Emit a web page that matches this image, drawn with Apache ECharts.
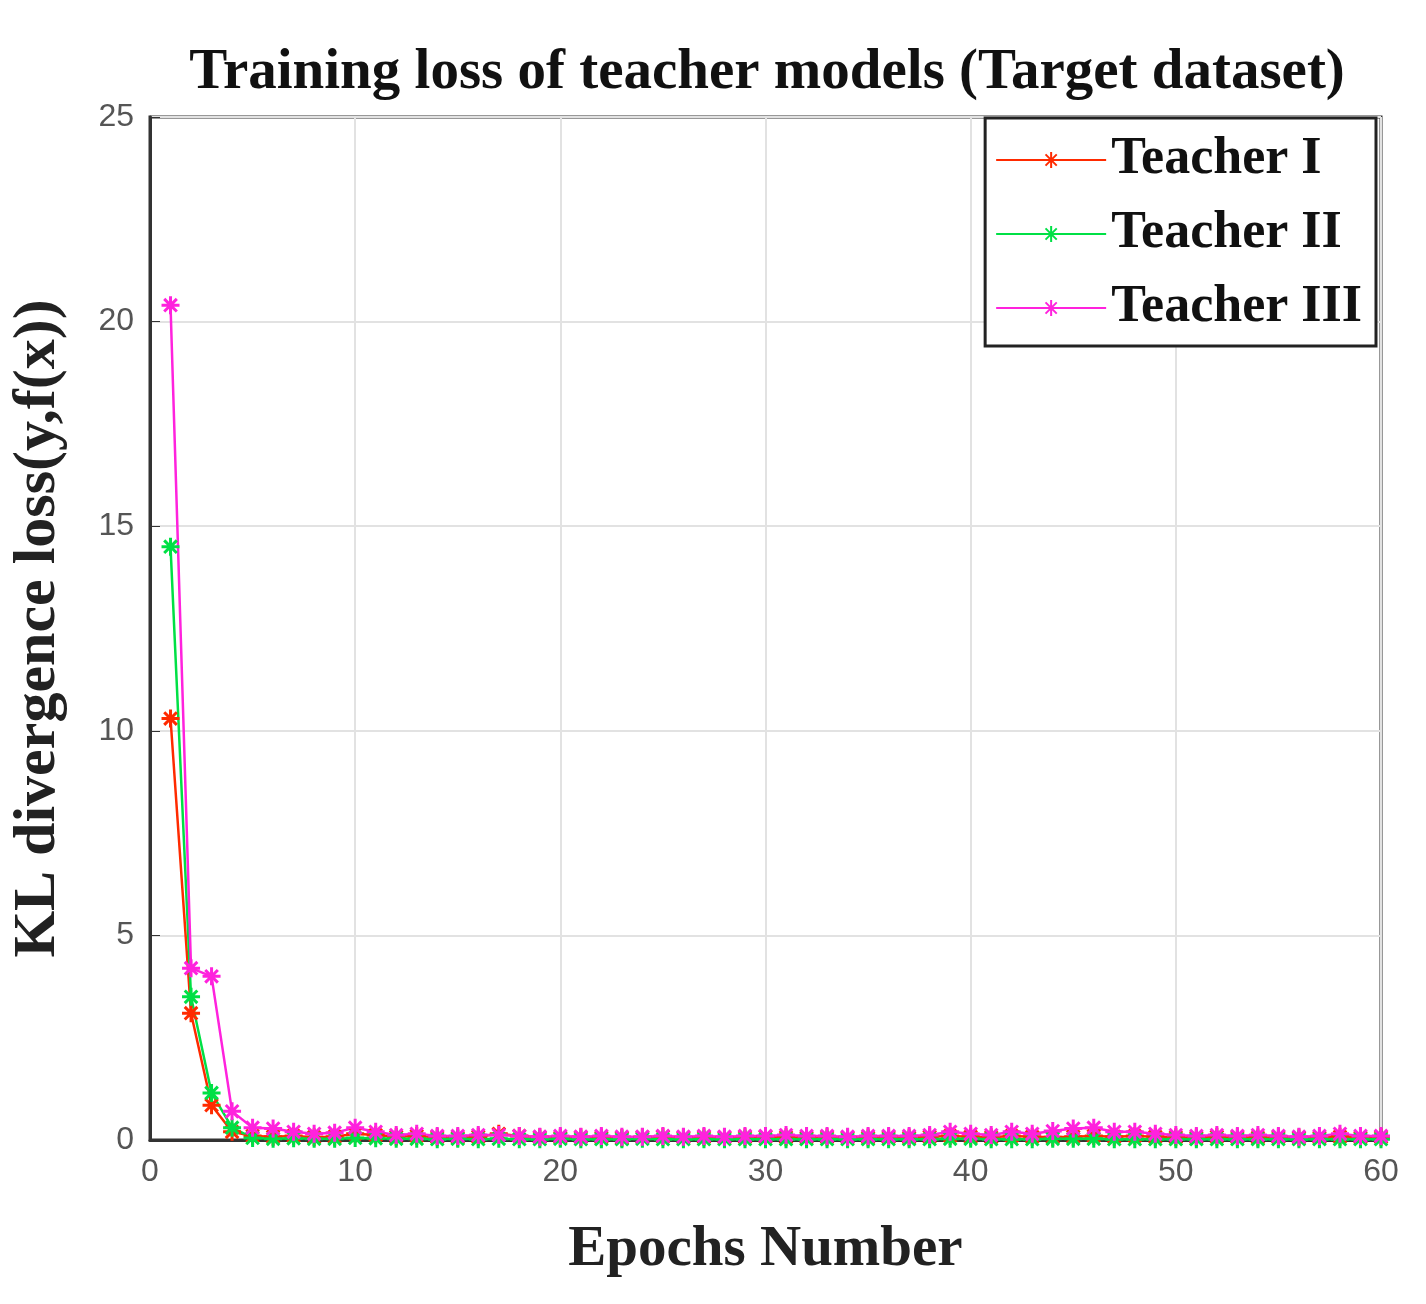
<!DOCTYPE html>
<html><head><meta charset="utf-8">
<script src="https://cdn.jsdelivr.net/npm/echarts@6/dist/echarts.min.js"></script>
<style>html,body{margin:0;padding:0;background:#fff}#c{width:1426px;height:1304px}</style>
</head><body><div id="c"></div>
<script>
const epochs = Array.from({length:60},(_, i)=>i+1);
const teacher1 = [10.3,3.1,0.85,0.2,0.1,0.08,0.1,0.07,0.08,0.15,0.12,0.08,0.1,0.07,0.06,0.08,0.15,0.1,0.07,0.06,0.07,0.06,0.05,0.07,0.08,0.06,0.07,0.06,0.07,0.08,0.07,0.06,0.07,0.06,0.06,0.07,0.06,0.08,0.1,0.08,0.07,0.1,0.08,0.07,0.08,0.1,0.08,0.1,0.08,0.07,0.06,0.08,0.07,0.06,0.07,0.06,0.06,0.08,0.06,0.07];
const teacher2 = [14.5,3.5,1.15,0.3,0.05,0.03,0.04,0.03,0.03,0.05,0.04,0.03,0.03,0.02,0.03,0.02,0.03,0.02,0.02,0.03,0.02,0.02,0.02,0.03,0.02,0.02,0.02,0.02,0.02,0.02,0.02,0.02,0.02,0.02,0.02,0.02,0.02,0.02,0.03,0.03,0.02,0.02,0.02,0.03,0.03,0.03,0.02,0.02,0.02,0.02,0.02,0.02,0.02,0.02,0.02,0.02,0.02,0.02,0.02,0.02];
const teacher3 = [20.4,4.2,4.0,0.7,0.3,0.28,0.2,0.15,0.18,0.3,0.2,0.12,0.15,0.1,0.1,0.12,0.12,0.1,0.08,0.1,0.08,0.1,0.08,0.08,0.1,0.08,0.1,0.08,0.1,0.1,0.12,0.1,0.1,0.08,0.1,0.1,0.1,0.12,0.2,0.15,0.12,0.2,0.15,0.22,0.28,0.3,0.2,0.2,0.15,0.12,0.1,0.12,0.1,0.12,0.1,0.08,0.1,0.15,0.1,0.1];
const yTicks = [0,5,10,15,20,25];
const names = ['Teacher I','Teacher II','Teacher III'];
const colors = ['#ff2a00','#00e045','#ff22dd'];
const chart = echarts.init(document.getElementById('c'));
const star = 'path://M0,-10L0,10M-10,0L10,0M-7,-7L7,7M-7,7L7,-7';
const mk = (n,d,c)=>({name:n,type:'line',data:d.map((v,i)=>[epochs[i],v]),symbol:star,symbolSize:18,
  lineStyle:{color:c,width:2.5},itemStyle:{color:c,borderColor:c,borderWidth:3},color:c});
chart.setOption({
  animation:false,
  title:{text:'Training loss of teacher models (Target dataset)',left:762,top:40,textAlign:'center',
    textStyle:{fontFamily:'Liberation Serif',fontWeight:'bold',fontSize:57,color:'#111'}},
  legend:{right:50,top:118,orient:'vertical',itemWidth:110,itemHeight:20,itemGap:22,
    backgroundColor:'#fff',borderColor:'#222',borderWidth:3,padding:[16,14,12,10],
    textStyle:{fontFamily:'Liberation Serif',fontWeight:'bold',fontSize:52,color:'#111'},data:names},
  grid:{left:143,right:45,top:117,bottom:164,show:true,borderColor:'#333',borderWidth:3},
  xAxis:{type:'value',min:0,max:60,interval:10,name:'Epochs Number',nameLocation:'middle',nameGap:82,
    nameTextStyle:{fontFamily:'Liberation Serif',fontWeight:'bold',fontSize:57,color:'#222'},
    axisLine:{lineStyle:{color:'#333',width:3}},axisTick:{inside:true,length:10,lineStyle:{color:'#333'}},
    axisLabel:{fontSize:32,color:'#555',margin:16,fontFamily:'Liberation Sans'},
    splitLine:{show:true,lineStyle:{color:'#e2e2e2',width:2}}},
  yAxis:{type:'value',min:yTicks[0],max:yTicks[yTicks.length-1],interval:5,name:'KL divergence loss(y,f(x))',
    nameLocation:'middle',nameGap:82,
    nameTextStyle:{fontFamily:'Liberation Serif',fontWeight:'bold',fontSize:60,color:'#222'},
    axisLine:{lineStyle:{color:'#333',width:3}},axisTick:{inside:true,length:10,lineStyle:{color:'#333'}},
    axisLabel:{fontSize:32,color:'#555',margin:16,fontFamily:'Liberation Sans'},
    splitLine:{show:true,lineStyle:{color:'#e2e2e2',width:2}}},
  series:[mk(names[0],teacher1,colors[0]),mk(names[1],teacher2,colors[1]),mk(names[2],teacher3,colors[2])]
});
</script></body></html>
